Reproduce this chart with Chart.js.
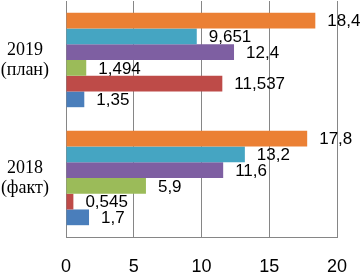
<!DOCTYPE html>
<html>
<head>
<meta charset="utf-8">
<script src="https://cdn.jsdelivr.net/npm/chart.js@4/dist/chart.umd.min.js"></script>
<style>
  html, body { margin: 0; padding: 0; background: #fff; }
  #wrap { position: relative; width: 361px; height: 272px; }
</style>
</head>
<body>
<div id="wrap"><canvas id="chart"></canvas></div>
<script>
// категории (сверху вниз)
const categories = [['2019', '(план)'], ['2018', '(факт)']];
// ряды, порядок сверху вниз внутри группы
const seriesOrange = [18.4, 17.8];
const seriesTeal = [9.651, 13.2];
const seriesPurple = [12.4, 11.6];
const seriesGreen = [1.494, 5.9];
const seriesRed = [11.537, 0.545];
const seriesBlue = [1.35, 1.7];
const xTicks = [0, 5, 10, 15, 20];

const colors = ['#EB8034', '#45A5C2', '#7E5FA2', '#9BBB59', '#BE4B48', '#4A7EBB'];
const allSeries = [seriesOrange, seriesTeal, seriesPurple, seriesGreen, seriesRed, seriesBlue];

// подписи данных справа от конца столбца
const valueLabels = {
    id: 'valueLabels',
    afterDatasetsDraw(chart) {
        const ctx = chart.ctx;
        ctx.save();
        ctx.font = '17px "Liberation Sans", Arial, sans-serif';
        ctx.fillStyle = '#000';
        ctx.textAlign = 'left';
        ctx.textBaseline = 'middle';
        chart.data.datasets.forEach((ds, i) => {
            const meta = chart.getDatasetMeta(i);
            meta.data.forEach((bar, j) => {
                const txt = String(ds.data[j]).replace('.', ',');
                ctx.fillText(txt, bar.x + 12, bar.y + 1);
            });
        });
        ctx.restore();
    }
};

new Chart(document.getElementById('chart'), {
    type: 'bar',
    data: {
        labels: categories,
        datasets: allSeries.map((d, i) => ({
            data: d,
            backgroundColor: colors[i],
            borderWidth: 0,
            barPercentage: 1,
            categoryPercentage: 0.8
        }))
    },
    options: {
        indexAxis: 'y',
        responsive: true,
        maintainAspectRatio: false,
        animation: false,
        layout: { padding: { top: 1, right: 24, left: 0, bottom: 0 } },
        plugins: { legend: { display: false }, tooltip: { enabled: false } },
        scales: {
            x: {
                min: 0, max: 20,
                afterBuildTicks: (s) => { s.ticks = xTicks.map(v => ({ value: v })); },
                afterFit: (s) => { s.height = 35; s.paddingLeft = 0; s.paddingRight = 0; },
                grid: { color: '#868686', drawTicks: false, lineWidth: 1 },
                border: { display: true, color: '#868686' },
                ticks: {
                    padding: 19,
                    color: '#000',
                    font: { family: '"Liberation Sans", Arial, sans-serif', size: 18 }
                }
            },
            y: {
                grid: { display: false, drawTicks: false },
                border: { display: true, color: '#868686' },
                afterFit: (s) => { s.width = 66; s.paddingTop = 0; s.paddingBottom = 0; },
                ticks: {
                    padding: 17,
                    crossAlign: 'center',
                    color: '#000',
                    font: { family: '"Liberation Serif", "Times New Roman", serif', size: 18, lineHeight: 1.1 }
                }
            }
        }
    },
    plugins: [valueLabels]
});
</script>
</body>
</html>
